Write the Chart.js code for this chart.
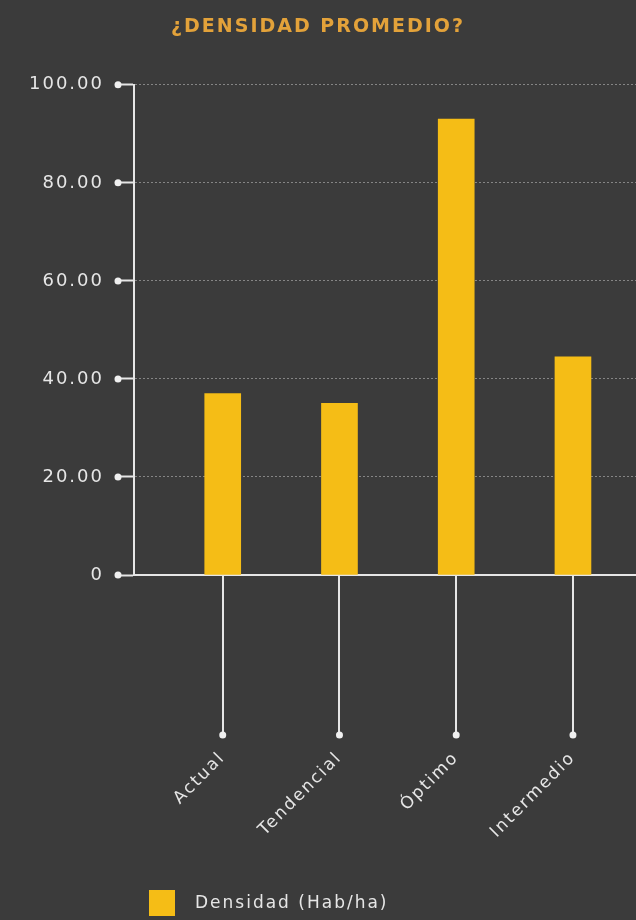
<!DOCTYPE html>
<html lang="es">
<head>
<meta charset="utf-8">
<title>¿Densidad promedio?</title>
<script src="https://cdn.jsdelivr.net/npm/chart.js@4.4.1/dist/chart.umd.min.js"></script>
<style>
  html, body { margin: 0; padding: 0; background: #3b3b3b; }
  canvas { display: block; }
</style>
</head>
<body>
<canvas id="chart" width="636" height="920"></canvas>
<script>
const escenarios = ['Actual', 'Tendencial', 'Óptimo', 'Intermedio'];
const densidad = [37, 35, 93, 44.5];
const yTicks = [0, 20, 40, 60, 80, 100];
const serieLabel = 'Densidad (Hab/ha)';

const BG = '#3b3b3b';
const INK = '#e6e6e6';
const GOLD = '#f5bd16';
const FONT = 'DejaVu Sans';

// wide tracking on every text + dark background
const spacing = {
  id: 'spacing',
  beforeUpdate(chart) { chart.ctx.letterSpacing = '2px'; },
  beforeDraw(chart) {
    const { ctx, width, height } = chart;
    ctx.letterSpacing = '2px';
    ctx.save();
    ctx.fillStyle = BG;
    ctx.fillRect(0, 0, width, height);
    ctx.restore();
  }
};

function dot(ctx, x, y) {
  ctx.beginPath();
  ctx.arc(x, y, 3.5, 0, Math.PI * 2);
  ctx.fill();
}

// round dots at the outer end of each tick mark, plus the legend row
const extras = {
  id: 'extras',
  afterDraw(chart) {
    const { ctx, chartArea, scales: { x, y } } = chart;
    ctx.save();
    ctx.fillStyle = '#f0f0f0';
    y.ticks.forEach(t => dot(ctx, y.right - y.options.grid.tickLength, y.getPixelForValue(t.value)));
    x.ticks.forEach(t => dot(ctx, x.getPixelForValue(t.value), chartArea.bottom + x.options.grid.tickLength));

    const ds = chart.data.datasets[0];
    ctx.fillStyle = ds.backgroundColor;
    ctx.fillRect(149, 890, 26, 26);
    ctx.fillStyle = INK;
    ctx.font = `17px "${FONT}"`;
    ctx.textBaseline = 'middle';
    ctx.textAlign = 'left';
    ctx.fillText(ds.label, 195, 904);
    ctx.restore();
  }
};

new Chart(document.getElementById('chart'), {
  type: 'bar',
  data: {
    datasets: [{
      label: serieLabel,
      data: escenarios.map((e, i) => ({ x: i, y: densidad[i] })),
      backgroundColor: GOLD,
      barThickness: 36
    }]
  },
  options: {
    responsive: false,
    animation: false,
    devicePixelRatio: 1,
    layout: { padding: 0 },
    plugins: {
      legend: { display: false },
      tooltip: { enabled: false },
      title: {
        display: true,
        text: '¿DENSIDAD PROMEDIO?',
        color: '#e3a23a',
        font: { family: FONT, size: 19, weight: 'bold' },
        padding: { top: 16, bottom: 46 }
      }
    },
    scales: {
      x: {
        type: 'linear',
        offset: false,
        min: -0.76,
        max: 3.54,
        afterBuildTicks: s => { s.ticks = escenarios.map((_, i) => ({ value: i })); },
        afterFit: s => { s.height = 345; },
        grid: { offset: false, drawOnChartArea: false, tickLength: 160, tickColor: INK, tickWidth: 2, lineWidth: 2 },
        border: { color: INK, width: 2 },
        ticks: {
          color: INK,
          font: { family: FONT, size: 17 },
          minRotation: 45,
          maxRotation: 45,
          padding: 13,
          autoSkip: false,
          callback: v => escenarios[v]
        }
      },
      y: {
        min: 0,
        max: 100,
        afterBuildTicks: s => { s.ticks = yTicks.map(v => ({ value: v })); },
        afterFit: s => { s.width = 134; },
        grid: {
          color: 'rgba(225,225,225,0.45)',
          lineWidth: 1,
          tickLength: 16,
          tickColor: INK,
          tickWidth: 2,
          tickBorderDash: []
        },
        border: { color: INK, width: 2, dash: [2, 2] },
        ticks: {
          color: INK,
          font: { family: FONT, size: 18 },
          padding: 14,
          callback: v => (v === 0 ? '0' : v.toFixed(2))
        }
      }
    }
  },
  plugins: [spacing, extras]
});
</script>
</body>
</html>
